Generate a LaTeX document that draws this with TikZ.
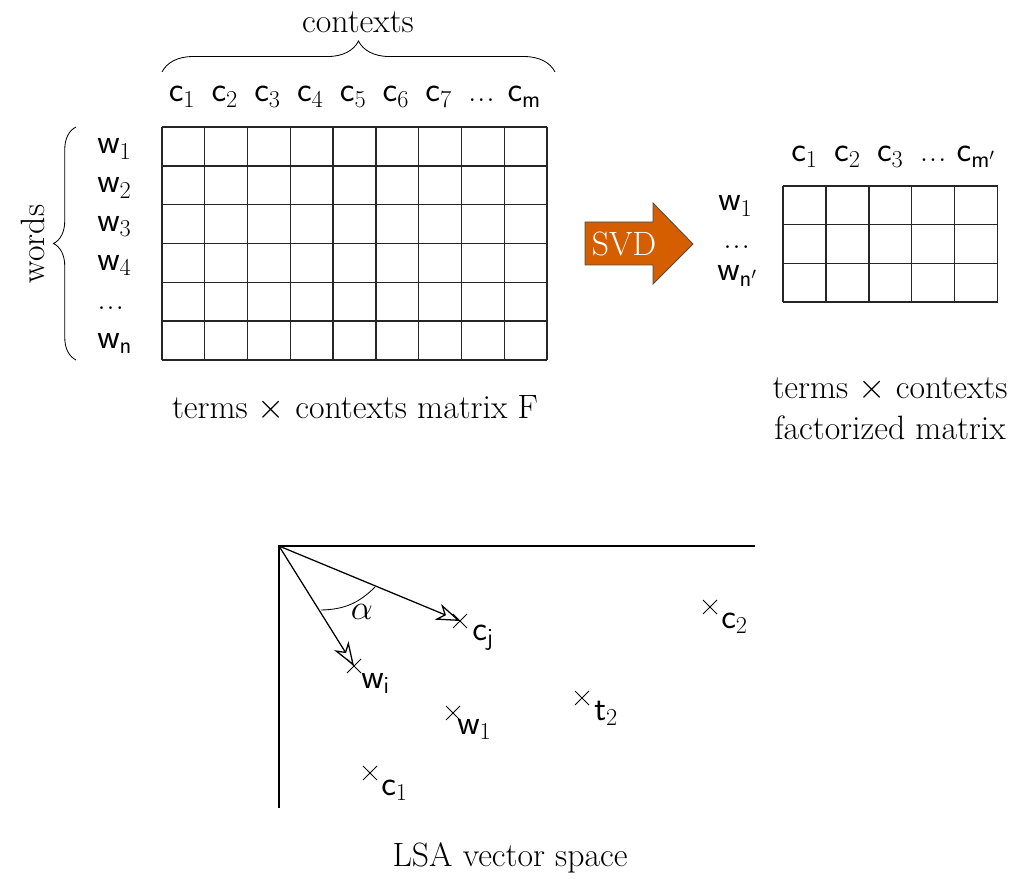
\documentclass[tikz,border=0pt]{standalone}
\usetikzlibrary{decorations.pathreplacing,arrows.meta,calc}
\definecolor{svdorange}{RGB}{213,94,0}
\newcommand{\myell}{.\kern0.5pt.\kern0.5pt.}
\begin{document}
\begin{tikzpicture}[x=0.025cm,y=-0.025cm,
  every node/.style={font=\fontsize{24}{29}\selectfont, inner sep=0pt},
  gridline/.style={line width=1pt, draw=black!85},
  bracestyle/.style={decorate, decoration={brace, amplitude=#1}, line width=0.6pt},
  vec/.style={line width=0.9pt, -{Stealth[open, length=17pt, width=12pt, inset=5pt]}},
  crossmark/.style={line width=0.6pt},
  lbl/.style={anchor=base west},
]
\useasboundingbox (0,0) rectangle (1021,879);

% ---------- left matrix ----------
\coordinate (Fnw) at (162,127);
\coordinate (Fse) at (547,360);
\foreach \i in {0,...,9}
  \draw[gridline] ({162+\i*42.78},127) -- ({162+\i*42.78},360);
\foreach \j in {0,...,6}
  \draw[gridline] (162,{127+\j*38.83}) -- (547,{127+\j*38.83});

\foreach \lab [count=\i from 0] in {$\mathsf{c}_1$,$\mathsf{c}_2$,$\mathsf{c}_3$,$\mathsf{c}_4$,$\mathsf{c}_5$,$\mathsf{c}_6$,$\mathsf{c}_7$,\myell,$\mathsf{c}_\mathsf{m}$}
  \node[anchor=base] (col\i) at ({182+\i*42.78},102) {\lab};

\foreach \lab [count=\j from 0] in {$\mathsf{w}_1$,$\mathsf{w}_2$,$\mathsf{w}_3$,$\mathsf{w}_4$,\myell,$\mathsf{w}_\mathsf{n}$}
  \node[anchor=base west] (row\j) at (97,{154+\j*38.83}) {\lab};

\coordinate (tbL) at (162,72);
\coordinate (tbR) at (555,72);
\draw[bracestyle=22pt] (tbL) -- (tbR);
\node (contexts) at (358,22) {contexts};

\coordinate (lbB) at (76,360);
\coordinate (lbT) at (76,127);
\draw[bracestyle=16pt] (lbB) -- (lbT);
\node[rotate=90] (words) at (33,244) {words};

\node (Flabel) at (355,408) {terms $\times$ contexts matrix F};

% ---------- SVD arrow ----------
\draw[fill=svdorange, draw=black!70, line width=0.6pt]
  (585,222) -- (653,222) -- (653,203) -- (693,244) -- (653,284) -- (653,265) -- (585,265) -- cycle;
\node[text=white] (svd) at (624,244) {SVD};

% ---------- right matrix ----------
\foreach \i in {0,...,5}
  \draw[gridline] ({783+\i*42.9},186) -- ({783+\i*42.9},302);
\foreach \j in {0,...,3}
  \draw[gridline] (783,{186+\j*38.67}) -- (997.5,{186+\j*38.67});

\foreach \lab [count=\i from 0] in {$\mathsf{c}_1$,$\mathsf{c}_2$,$\mathsf{c}_3$,\myell,$\mathsf{c}_{\mathsf{m}'}$}
  \node[anchor=base] (rcol\i) at ({804.5+\i*42.9},162) {\lab};

\node[anchor=base west] (rrow0) at (718,211) {$\mathsf{w}_1$};
\node[anchor=base west] (rrow1) at (723,249) {\myell};
\node[anchor=base west] (rrow2) at (717,281) {$\mathsf{w}_{\mathsf{n}'}$};

\node (Rlabel1) at (890,390) {terms $\times$ contexts};
\node (Rlabel2) at (890,428) {factorized matrix};

% ---------- LSA vector space ----------
\coordinate (O) at (279,546);
\coordinate (xend) at (755,546);
\coordinate (yend) at (279,808);
\draw[line width=0.8pt] (xend) -- (O) -- (yend);

\coordinate (pcj) at (460,621);
\coordinate (pwi) at (354,666);
\coordinate (pc2) at (710,607);
\coordinate (pw1) at (453,713);
\coordinate (pt2) at (582,698);
\coordinate (pc1) at (370,773);

\foreach \p in {pcj,pwi,pc2,pw1,pt2,pc1}
  \draw[crossmark] ($(\p)+(-7,-7)$) -- ($(\p)+(7,7)$) ($(\p)+(-7,7)$) -- ($(\p)+(7,-7)$);

\draw[vec] (O) -- (pcj);
\draw[vec] (O) -- (pwi);

\coordinate (arcA) at (321,610);
\coordinate (arcB) at (375,587);
\draw[line width=0.6pt] (arcA) to[bend right=22] (arcB);
\node (alpha) at (362,612) {$\alpha$};

\node[lbl] (lcj) at (472,640) {$\mathsf{c}_\mathsf{j}$};
\node[lbl] (lwi) at (361,688) {$\mathsf{w}_\mathsf{i}$};
\node[lbl] (lw1) at (457,734) {$\mathsf{w}_1$};
\node[lbl] (lt2) at (594,720) {$\mathsf{t}_2$};
\node[lbl] (lc1) at (381,795) {$\mathsf{c}_1$};
\node[lbl] (lc2) at (721,628) {$\mathsf{c}_2$};

\node (lsa) at (510,858) {LSA vector space};
\end{tikzpicture}
\end{document}
